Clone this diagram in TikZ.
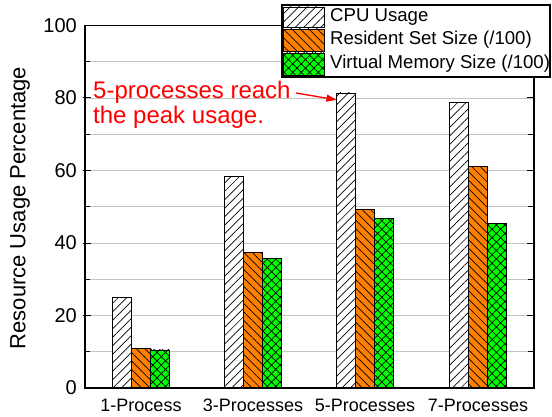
\documentclass[tikz,border=0pt]{standalone}
\usepackage{fontspec}
\setmainfont{Liberation Sans}
\usetikzlibrary{patterns.meta,arrows.meta}
\definecolor{rssorange}{HTML}{FF8000}
\definecolor{vmsgreen}{HTML}{00FF00}
\definecolor{gridgray}{HTML}{C4C4C4}
\definecolor{notered}{HTML}{FF0000}

\begin{document}
\begin{tikzpicture}[x=1pt,y=1pt,
    cpubar/.style={draw=black,line width=0.8pt,fill=white,
        postaction={pattern={Lines[angle=45,distance=6pt,line width=0.7pt]}}},
    rssbar/.style={draw=black,line width=0.8pt,fill=rssorange,
        postaction={pattern={Lines[angle=-45,distance=6pt,line width=0.7pt]}}},
    vmsbar/.style={draw=black,line width=0.8pt,fill=vmsgreen,
        postaction={pattern={Hatch[angle=45,distance=6pt,line width=0.7pt]}}},
    gridline/.style={gridgray,line width=0.9pt},
    axisline/.style={black,line width=1.2pt},
    ticklabel/.style={font=\fontsize{20}{24}\selectfont,anchor=east,inner sep=0pt},
    grouplabel/.style={font=\fontsize{18}{22}\selectfont,inner sep=0pt},
    legendtext/.style={font=\fontsize{18.6}{22}\selectfont,anchor=west,inner sep=0pt},
    notetext/.style={font=\fontsize{24}{25}\selectfont,text=notered,align=left,inner sep=0pt}]

    \useasboundingbox (0,0) rectangle (552,416);

    % data area: x in pt from the left axis, y in percent
    \begin{scope}[shift={(85,28)},y=3.625pt]
        \foreach \v in {10,20,...,90}
            \draw[gridline] (0,\v) -- (449,\v);

        \foreach \c/\cpu/\rss/\vms in {56/25/11/10.5, 168/58.3/37.5/35.8, 280/81.4/49.2/46.8, 393/78.7/61.2/45.4}{
            \draw[cpubar] (\c-28.5,0) rectangle (\c-9.5,\cpu);
            \draw[rssbar] (\c-9.5,0) rectangle (\c+9.5,\rss);
            \draw[vmsbar] (\c+9.5,0) rectangle (\c+28.5,\vms);
        }

        \draw[axisline] (0,0) rectangle (449,100);
        \foreach \v in {10,30,...,90}{
            \draw[black,line width=1pt] (0,\v) -- (5,\v);
            \draw[black,line width=1pt] (449,\v) -- (443,\v);
        }
        \foreach \v in {20,40,...,80}{
            \draw[black,line width=1pt] (-2,\v) -- (6,\v);
            \draw[black,line width=1pt] (449,\v) -- (442,\v);
        }

        \foreach \v in {0,20,...,100}
            \node[ticklabel] (ylab\v) at (-8,\v) {\v};

        \coordinate (peakcpu) at (251.5,79.5);
    \end{scope}

    \node[rotate=90,font=\fontsize{22}{26}\selectfont] (ytitle) at (20,208) {Resource Usage Percentage};

    \node[grouplabel] (g1) at (141,11) {1-Process};
    \node[grouplabel] (g3) at (253,11) {3-Processes};
    \node[grouplabel] (g5) at (365,11) {5-Processes};
    \node[grouplabel] (g7) at (478,11) {7-Processes};

    % legend
    \draw[black,line width=1.2pt,fill=white] (282,411) rectangle (550,339);
    \draw[cpubar] (283,409) rectangle (324,389);
    \draw[rssbar] (283,387) rectangle (324,365);
    \draw[vmsbar] (283,363) rectangle (324,341);
    \node[legendtext] (lcpu) at (330,399) {CPU Usage};
    \node[legendtext] (lrss) at (330,376) {Resident Set Size (/100)};
    \node[legendtext] (lvms) at (330,352) {Virtual Memory Size (/100)};

    % annotation
    \node[notetext,anchor=north west] (note) at (93,335) {5-processes reach\\the peak usage.};
    \coordinate (notetail) at (296,323);
    \draw[notered,line width=1.3pt,-{Triangle[length=10pt,width=7pt]}] (notetail) -- (peakcpu);

\end{tikzpicture}
\end{document}
